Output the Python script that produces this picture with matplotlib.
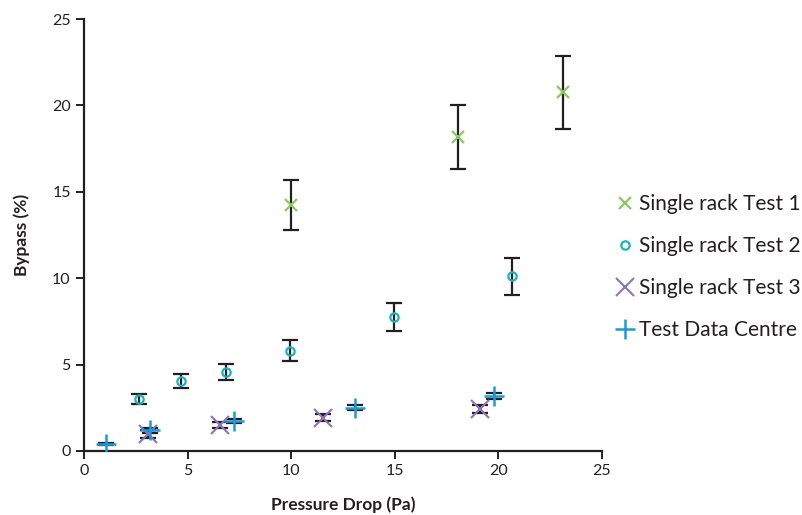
import matplotlib
matplotlib.use("Agg")
import matplotlib.pyplot as plt

plt.rcParams['font.family'] = ['Lato', 'DejaVu Sans']

# Data
t1_x = [10.0, 18.05, 23.1]
t1_y = [14.25, 18.17, 20.75]
t1_err = [1.45, 1.85, 2.1]

t2_x = [2.65, 4.7, 6.85, 9.95, 14.95, 20.65]
t2_y = [3.0, 4.05, 4.57, 5.8, 7.77, 10.1]
t2_err = [0.28, 0.4, 0.45, 0.6, 0.8, 1.05]

t3_x = [3.1, 6.55, 11.55, 19.1]
t3_y = [1.0, 1.5, 1.92, 2.42]
t3_err = [0.22, 0.18, 0.2, 0.22]

dc_x = [1.08, 3.2, 7.25, 13.1, 19.8]
dc_y = [0.42, 1.2, 1.74, 2.5, 3.2]
dc_err = [0.05, 0.15, 0.12, 0.15, 0.18]

fig = plt.figure(figsize=(8.03, 5.15), dpi=100)
ax = fig.add_axes([0.1046, 0.1243, 0.645, 0.8387])

ekw = dict(ecolor='#231f20', elinewidth=1.6, capsize=6, capthick=1.6, linestyle='none', zorder=2)

ax.errorbar(t1_x, t1_y, yerr=t1_err, fmt='none', **ekw)
ax.errorbar(t2_x, t2_y, yerr=t2_err, fmt='none', **ekw)
ax.errorbar(t3_x, t3_y, yerr=t3_err, fmt='none', **ekw)
ax.errorbar(dc_x, dc_y, yerr=dc_err, fmt='none', **ekw)

ax.plot(t1_x, t1_y, linestyle='none', marker='x', color='#8cc862', markersize=9, markeredgewidth=1.6, label='Single rack Test 1', zorder=3)
ax.plot(t2_x, t2_y, linestyle='none', marker='o', markerfacecolor='none', markeredgecolor='#1ab3c2', markersize=6, markeredgewidth=1.6, label='Single rack Test 2', zorder=3)
ax.plot(t3_x, t3_y, linestyle='none', marker='x', color='#8f72b8', markersize=13, markeredgewidth=1.5, label='Single rack Test 3', zorder=3)
ax.plot(dc_x, dc_y, linestyle='none', marker='+', color='#1c9ad6', markersize=14, markeredgewidth=1.8, label='Test Data Centre', zorder=4)

ax.set_xlim(0, 25)
ax.set_ylim(0, 25)
ax.set_xticks([0, 5, 10, 15, 20, 25])
ax.set_yticks([0, 5, 10, 15, 20, 25])
ax.spines['top'].set_visible(False)
ax.spines['right'].set_visible(False)
for s in ['left', 'bottom']:
    ax.spines[s].set_linewidth(1.6)
    ax.spines[s].set_color('#231f20')
ax.tick_params(axis='both', direction='out', length=6, width=1.4, color='#231f20', labelsize=11.5, labelcolor='#231f20')

ax.set_xlabel('Pressure Drop (Pa)', fontsize=12.5, fontweight='bold', color='#231f20', labelpad=13)
ax.set_ylabel('Bypass (%)', fontsize=12.5, fontweight='bold', color='#231f20', labelpad=16)

ax.legend(loc='center left', bbox_to_anchor=(1.0, 0.426), frameon=False, fontsize=15,
          handlelength=0.8, handletextpad=0.3, labelspacing=1.05, borderaxespad=0.3,
          labelcolor='#231f20')

fig.savefig('out.png', dpi=100)
